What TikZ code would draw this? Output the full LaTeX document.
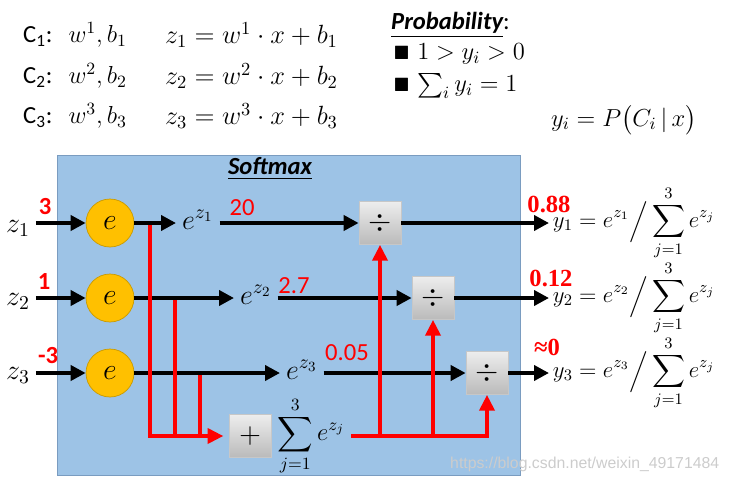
\RequirePackage{fix-cm}
\documentclass[tikz,border=0pt]{standalone}
\usepackage{amsmath,amssymb}
\usepackage{fontspec}
\newfontfamily\calfont{Carlito}
\newfontfamily\timesfont{Liberation Serif}
\newfontfamily\arialfont{Liberation Sans}
\usetikzlibrary{shapes,arrows.meta,positioning,calc}
\usepackage{xcolor}
\definecolor{panelblue}{HTML}{9DC3E6}
\definecolor{panelline}{HTML}{7A9CC0}
\definecolor{expfill}{HTML}{FFC000}
\definecolor{expline}{HTML}{C99A00}

\begin{document}
\begin{tikzpicture}[
    x=0.02cm, y=-0.02cm,
    panel/.style={rectangle, draw=panelline, fill=panelblue, minimum width=9.26cm, minimum height=6.4cm},
    expnode/.style={circle, draw=expline, fill=expfill, minimum size=0.96cm, inner sep=0pt, font=\fontsize{17}{17}\selectfont},
    opbox/.style={rectangle, draw=black!22, top color=black!7, bottom color=black!27, minimum width=0.84cm, minimum height=0.86cm, font=\fontsize{17}{17}\selectfont},
    mathlabel/.style={font=\fontsize{16}{18}\selectfont},
    outlabel/.style={anchor=west, inner sep=2pt, font=\fontsize{13}{16}\selectfont},
    toptext/.style={anchor=west, font=\fontsize{14}{16}\selectfont},
    innum/.style={text=red, font=\calfont\bfseries\fontsize{14}{16}\selectfont},
    midnum/.style={text=red, font=\calfont\fontsize{14}{16}\selectfont},
    outnum/.style={text=red, font=\timesfont\bfseries\fontsize{14}{16}\selectfont},
    arrow/.style={-{Triangle[length=8.5pt,width=8.5pt]}, line width=2.2pt},
    redline/.style={draw=red, line width=2.2pt},
    redarrow/.style={redline, -{Triangle[length=9pt,width=8.5pt]}}
]
\useasboundingbox (0,0) rectangle (729,483);

% Classes and linear parts
\node[toptext] (cls1) at (17,35) {{\calfont C\textsubscript{1}:}\ \ $w^1, b_1$};
\node[toptext] (cls2) at (17,76) {{\calfont C\textsubscript{2}:}\ \ $w^2, b_2$};
\node[toptext] (cls3) at (17,116) {{\calfont C\textsubscript{3}:}\ \ $w^3, b_3$};
\node[toptext, font=\fontsize{15}{17}\selectfont] (lin1) at (159,35) {$z_1 = w^1 \cdot x + b_1$};
\node[toptext, font=\fontsize{15}{17}\selectfont] (lin2) at (159,76) {$z_2 = w^2 \cdot x + b_2$};
\node[toptext, font=\fontsize{15}{17}\selectfont] (lin3) at (159,116) {$z_3 = w^3 \cdot x + b_3$};

% Probability
\node[toptext] (prob) at (385,25) {{\calfont\bfseries\itshape\underline{Probability}}{\calfont :}};
\node[toptext] (cond1) at (388,54) {{\fontsize{11}{11}\selectfont$\blacksquare$}\ $1 > y_i > 0$};
\node[toptext] (cond2) at (388,86) {{\fontsize{11}{11}\selectfont$\blacksquare$}\ $\sum_i y_i = 1$};
\node[toptext] (pdef) at (545,120) {$y_i = P\big(C_i \,|\, x\big)$};

% Softmax block
\node[panel] (panel) at (288.5,315) {};
\node[font=\calfont\bfseries\itshape\fontsize{14}{16}\selectfont] (title) at (270,169) {\underline{Softmax}};

% Exponentials
\node[expnode] (c1) at (110,223) {$e$};
\node[expnode] (c2) at (110,298) {$e$};
\node[expnode] (c3) at (110,373) {$e$};

% Inputs
\node[mathlabel, anchor=base] (z1) at (18,232) {$z_1$};
\node[mathlabel, anchor=base] (z2) at (18,305) {$z_2$};
\node[mathlabel, anchor=base] (z3) at (18,379) {$z_3$};
\node[mathlabel, anchor=base west] (ez1) at (176,229) {$e^{z_1}$};
\node[mathlabel, anchor=base west] (ez2) at (234,304) {$e^{z_2}$};
\node[mathlabel, anchor=base west] (ez3) at (280,379) {$e^{z_3}$};

% Operations
\node[opbox] (d1) at (380,223) {$\div$};
\node[opbox] (d2) at (433,298) {$\div$};
\node[opbox] (d3) at (487,373) {$\div$};
\node[opbox] (plus) at (250,436) {$+$};
\node[mathlabel, font=\fontsize{14}{16}\selectfont, right=0pt of plus] (sumall) {$\displaystyle\sum_{j=1}^{3} e^{z_j}$};

% Outputs
\node[outlabel] (y1) at (549,223) {$\displaystyle y_1 = e^{z_1}\Big/\sum_{j=1}^{3} e^{z_j}$};
\node[outlabel] (y2) at (549,298) {$\displaystyle y_2 = e^{z_2}\Big/\sum_{j=1}^{3} e^{z_j}$};
\node[outlabel] (y3) at (549,373) {$\displaystyle y_3 = e^{z_3}\Big/\sum_{j=1}^{3} e^{z_j}$};

% Numbers
\node[innum] (n1) at (45,207) {3};
\node[innum] (n2) at (44,282) {1};
\node[innum] (n3) at (48,356) {-3};
\node[midnum] (v1) at (242,208) {20};
\node[midnum] (v2) at (294,286) {2.7};
\node[midnum] (v3) at (347,353) {0.05};
\node[outnum] (p1) at (549,204) {0.88};
\node[outnum] (p2) at (551,278) {0.12};
\node[outnum] (p3) at (547,347) {≈0};

% Black arrows
\draw[arrow] (z1.east |- c1) -- (c1);
\draw[arrow] (z2.east |- c2) -- (c2);
\draw[arrow] (z3.east |- c3) -- (c3);
\draw[arrow] (c1) -- (c1 -| ez1.west);
\draw[arrow] (c2) -- (c2 -| ez2.west);
\draw[arrow] (c3) -- (c3 -| ez3.west);
\draw[arrow] (ez1.east |- c1) -- (d1);
\draw[arrow] (ez2.east |- c2) -- (d2);
\draw[arrow] (ez3.east |- c3) -- (d3);
\draw[arrow] (d1) -- (d1 -| y1.west);
\draw[arrow] (d2) -- (d2 -| y2.west);
\draw[arrow] (d3) -- (d3 -| y3.west);

% Red sum lines
\coordinate (tap1) at (150,225);
\coordinate (tap2) at (175,300);
\coordinate (tap3) at (200,375);
\coordinate (sumout) at (sumall.east |- plus);
\draw[redarrow, shorten >=3pt] (tap1) |- (plus);
\draw[redline] (tap2) -- (tap2 |- plus);
\draw[redline] (tap3) -- (tap3 |- plus);
\draw[redarrow] (sumout) -| (d3);
\draw[redarrow] (sumout -| d1) -- (d1);
\draw[redarrow] (sumout -| d2) -- (d2);

% Watermark
\node[anchor=west, font=\arialfont\fontsize{9}{11}\selectfont, text=gray!40] (mark) at (444,464) {https://blog.csdn.net/weixin\_49171484};

\end{tikzpicture}
\end{document}
